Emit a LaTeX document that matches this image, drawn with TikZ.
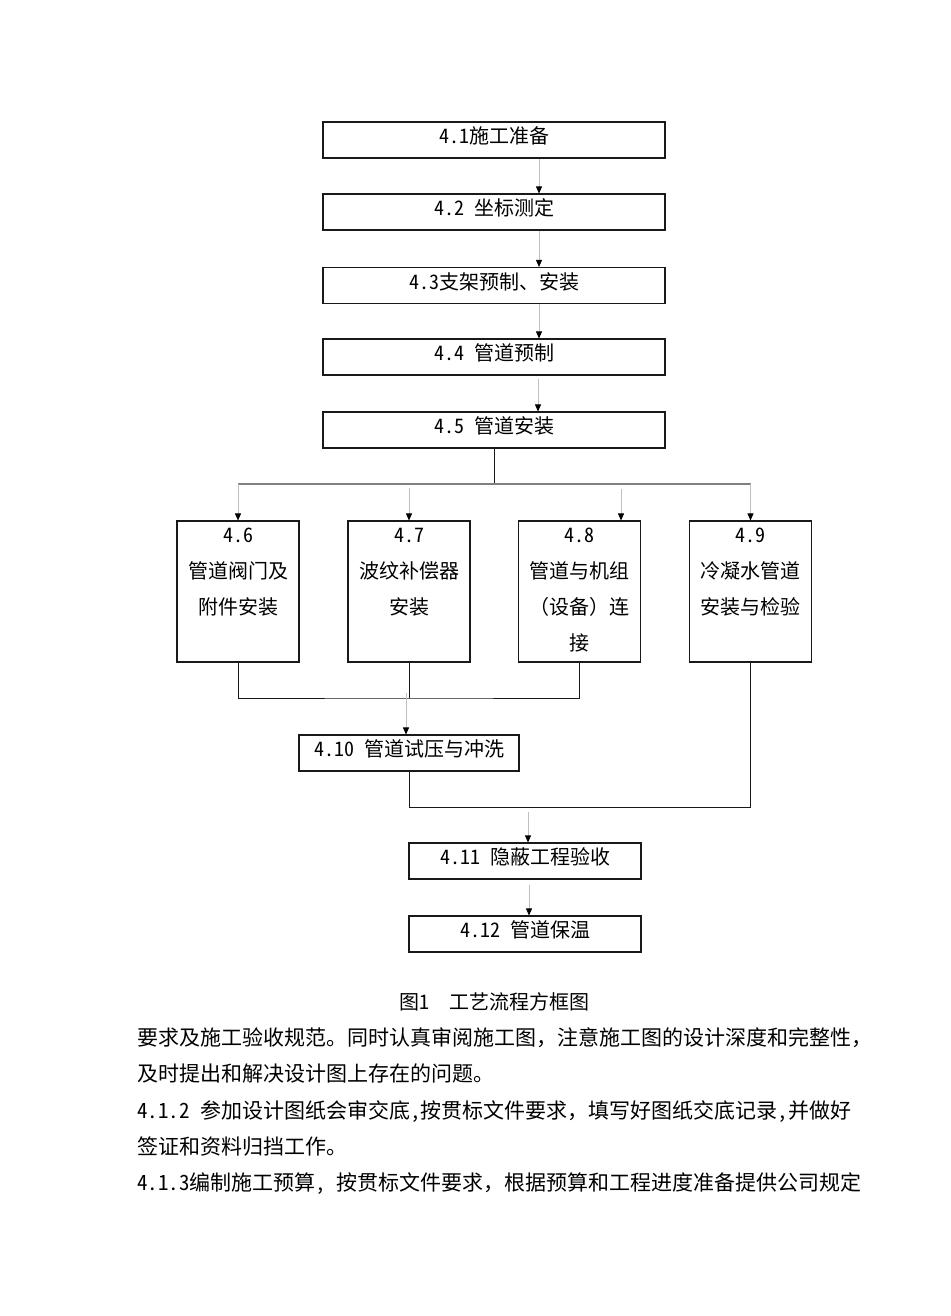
\documentclass[tikz,border=0pt]{standalone}
\usepackage{fontspec}
\setmainfont{Noto Sans CJK SC}
\newfontfamily\hwfont{Noto Sans CJK SC}[RawFeature=+hwid]
\usetikzlibrary{arrows.meta}
\newcommand{\nr}[1]{{\hwfont #1}}
\newcommand{\tallbox}[1]{\parbox[c][141pt][t]{122pt}{\centering\rule{0pt}{21.6pt}#1}}

\begin{document}
\begin{tikzpicture}[x=1pt,y=-1pt,
    box/.style={draw=black!90, line width=1.1pt, minimum width=342pt, minimum height=36pt, inner sep=0pt, text height=17.6pt, text depth=10.4pt, font=\fontsize{20}{24}\selectfont},
    tall/.style={draw=black!90, line width=1.1pt, inner sep=0pt, font=\fontsize{20}{36}\selectfont},
    arr/.style={draw=black!25, line width=0.8pt, -{Triangle[black, length=7pt, width=6pt]}},
    link/.style={draw=black!90, line width=1pt},
    bus/.style={draw=black!50, line width=1.6pt},
    body/.style={anchor=base west, inner sep=0pt, font=\fontsize{21}{24}\selectfont}]

\useasboundingbox (0,0) rectangle (950,1316);

\node[box] (b1) at (494,140) {\nr{4.1}施工准备};
\node[box] (b2) at (494,212) {\nr{4.2 }坐标测定};
\node[box] (b3) at (494,285.5) {\nr{4.3}支架预制、安装};
\node[box] (b4) at (494,357) {\nr{4.4 }管道预制};
\node[box] (b5) at (494,430) {\nr{4.5 }管道安装};

\node[tall] (b6) at (238,591.5) {\tallbox{\nr{4.6}\\管道阀门及\\附件安装}};
\node[tall] (b7) at (409,591.5) {\tallbox{\nr{4.7}\\波纹补偿器\\安装}};
\node[tall] (b8) at (579.5,591.5) {\tallbox{\nr{4.8}\\管道与机组\\（设备）连\\接}};
\node[tall] (b9) at (750.5,591.5) {\tallbox{\nr{4.9}\\冷凝水管道\\安装与检验}};

\node[box, minimum width=220pt] (b10) at (409,753) {\nr{4.10 }管道试压与冲洗};
\node[box, minimum width=232pt] (b11) at (525,861) {\nr{4.11 }隐蔽工程验收};
\node[box, minimum width=232pt] (b12) at (525,934) {\nr{4.12 }管道保温};

\draw[arr] ([xshift=45pt]b1.south) -- ([xshift=45pt]b2.north);
\draw[arr] ([xshift=45pt]b2.south) -- ([xshift=45pt]b3.north);
\draw[arr] ([xshift=45pt]b3.south) -- ([xshift=45pt]b4.north);
\draw[arr] ([xshift=44pt,yshift=-3pt]b4.south) -- ([xshift=44pt]b5.north);

\coordinate (bus) at (494,484);
\draw[link] (b5.south) -- (bus);
\draw[bus] (b6.north |- bus) -- (b9.north |- bus);
\draw[arr] (b6.north |- bus) -- (b6.north);
\coordinate (d7) at (409,488);
\draw[arr] (d7) -- (b7.north);
\coordinate (d8) at (621,489);
\draw[arr] (d8) -- (d8 |- b8.north);
\draw[arr] (b9.north |- bus) -- (b9.north);

\coordinate (merge) at (409,698);
\draw[link] (b6.south) |- (merge) -| (b8.south);
\draw[link] (b7.south) -- (merge);
\coordinate (d10) at (406,693);
\draw[arr] (d10) -- (d10 |- b10.north);

\coordinate (join) at (409,807);
\draw[link] (b10.south) -- (join) -| (b9.south);
\coordinate (d11) at (528,812);
\draw[arr] (d11) -- (d11 |- b11.north);
\draw[arr] ([xshift=4pt,yshift=-5pt]b11.south) -- ([xshift=4pt]b12.north);

\node[anchor=base, inner sep=0pt, font=\fontsize{20}{24}\selectfont] (cap) at (494,1009) {图\nr{1}\quad 工艺流程方框图};
\node[body] (t1) at (137,1045) {要求及施工验收规范。同时认真审阅施工图，注意施工图的设计深度和完整性，};
\node[body] (t2) at (137,1081) {及时提出和解决设计图上存在的问题。};
\node[body] (t3) at (137,1118) {\nr{4.1.2 }参加设计图纸会审交底\nr{,}按贯标文件要求，填写好图纸交底记录\nr{,}并做好};
\node[body] (t4) at (137,1154) {签证和资料归挡工作。};
\node[body] (t5) at (137,1190) {\nr{4.1.3}编制施工预算\nr{, }按贯标文件要求，根据预算和工程进度准备提供公司规定};

\end{tikzpicture}
\end{document}
